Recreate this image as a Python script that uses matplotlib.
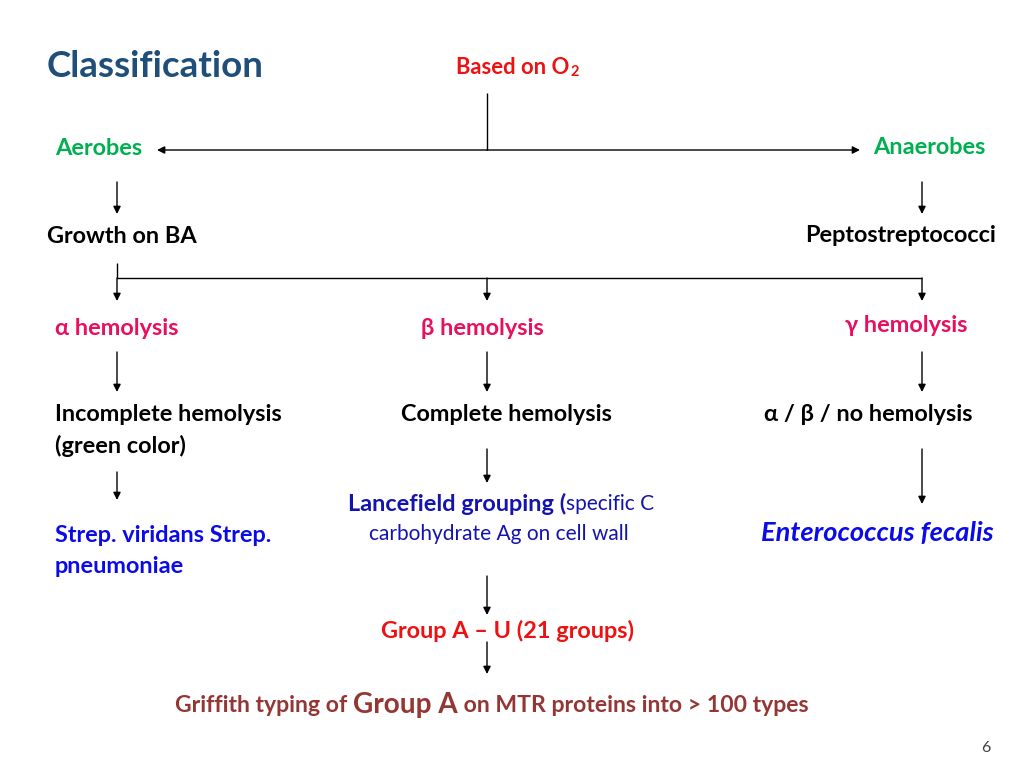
import matplotlib
matplotlib.use("Agg")
import matplotlib.pyplot as plt

plt.rcParams['font.family'] = ['Lato', 'DejaVu Sans']

# ---- content ----
title = "Classification"
root_label = "Based on O"
root_sub = "2"
level1 = ["Aerobes", "Anaerobes"]
level2 = ["Growth on BA", "Peptostreptococci"]
hemolysis = ["\u03b1 hemolysis", "\u03b2 hemolysis", "\u03b3 hemolysis"]
hemo_result = ["Incomplete hemolysis\n(green color)", "Complete hemolysis",
               "\u03b1 / \u03b2 / no hemolysis"]
organisms = ["Strep. viridans Strep.\npneumoniae", "Enterococcus fecalis"]
lancefield_bold = "Lancefield grouping ("
lancefield_rest = ["specific C", "carbohydrate Ag on cell wall"]
groups = "Group A \u2013 U (21 groups)"
griffith = ["Griffith typing of ", "Group A", " on MTR proteins into > 100 types"]
page_no = "6"

# ---- colours ----
C_TITLE = "#1F4E79"
C_RED = "#EE1111"
C_GREEN = "#00B050"
C_PINK = "#E8105E"
C_BLUE = "#0B0BE8"
C_NAVY = "#1313B0"
C_BROWN = "#943634"

FS = 16.9  # body text size

fig = plt.figure(figsize=(10.24, 7.68), dpi=100)
ax = fig.add_axes([0, 0, 1, 1])
ax.set_xlim(0, 1024)
ax.set_ylim(768, 0)
ax.axis("off")


def arrow(x0, y0, x1, y1):
    ax.annotate("", xy=(x1, y1), xytext=(x0, y0),
                arrowprops=dict(arrowstyle="-|>", color="black", lw=1.0,
                                mutation_scale=11, shrinkA=0, shrinkB=0))


def line(xs, ys):
    ax.plot(xs, ys, color="black", lw=1.0, solid_capstyle="butt")


def txt(x, y, s, color="black", size=FS, weight="bold", ha="left", style="normal"):
    return ax.text(x, y + 1.5, s, color=color, fontsize=size, fontweight=weight,
                   ha=ha, va="center", fontstyle=style, linespacing=1.55)


def right_edge(t):
    fig.canvas.draw()
    return t.get_window_extent().transformed(ax.transData.inverted()).x1


# title and root
txt(47, 65, title, color=C_TITLE, size=26.5)
t = txt(456, 66, root_label, color=C_RED, size=15.8)
txt(right_edge(t) + 1, 70, root_sub, color=C_RED, size=10.5)

# O2 split
line([487, 487], [93, 150])
arrow(487, 150, 157, 150)
arrow(487, 150, 860, 150)
txt(55, 147, level1[0], color=C_GREEN)
txt(873, 146, level1[1], color=C_GREEN)

arrow(117, 182, 117, 214)
arrow(922, 182, 922, 214)
txt(47, 235, level2[0])
txt(805, 234, level2[1])

# blood agar split
line([117, 117], [263, 278])
line([117, 922], [278, 278])
for x in [117, 487, 922]:
    arrow(x, 278, x, 301)
txt(55, 327, hemolysis[0], color=C_PINK)
txt(421, 327, hemolysis[1], color=C_PINK)
txt(845, 324, hemolysis[2], color=C_PINK)

for x in [117, 487, 922]:
    arrow(x, 352, x, 392)
txt(55, 429, hemo_result[0])
txt(401, 413, hemo_result[1])
txt(764, 413, hemo_result[2])

arrow(117, 472, 117, 500)
arrow(487, 449, 487, 483)
arrow(922, 449, 922, 504)

txt(55, 549.5, organisms[0], color=C_BLUE)
txt(761, 532, organisms[1], color=C_BLUE, size=19.6, style="italic")

t = txt(348, 502, lancefield_bold, color=C_NAVY)
txt(right_edge(t), 503, lancefield_rest[0], color=C_NAVY, size=15, weight="normal")
txt(369, 533, lancefield_rest[1], color=C_NAVY, size=15, weight="normal")

arrow(487, 576, 487, 615)
txt(381, 629, groups, color=C_RED)
arrow(487, 642, 487, 674)

# Griffith typing, mixed sizes
x = 175
for part, sz in zip(griffith, [16.6, 20.2, 16.6]):
    t = txt(x, 704, part, color=C_BROWN, size=sz)
    x = right_edge(t)

ax.text(986, 748, page_no, color="#404040", fontsize=11.5, ha="center", va="center")

fig.savefig("out.png", dpi=100)
